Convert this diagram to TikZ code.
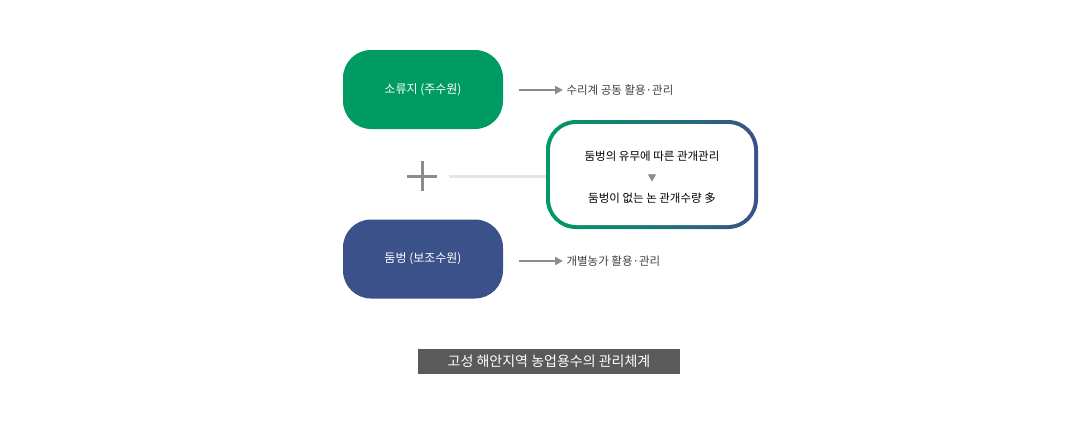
\documentclass[tikz,border=0pt]{standalone}
\usepackage{fontspec}
\setmainfont{Noto Sans CJK KR}
\usetikzlibrary{arrows.meta,positioning}
\definecolor{srcgreen}{HTML}{009B63}
\definecolor{srcblue}{HTML}{3A5189}
\definecolor{arrowgray}{HTML}{8C8C8C}
\definecolor{titlegray}{HTML}{5A5A5A}
\tikzset{%
  every source/.style={
    rounded corners=28pt,
    minimum width=160pt,
    minimum height=79pt,
    text=white,
    font=\fontsize{12}{14}\selectfont
  },
  use label/.style={
    anchor=west,
    text=black!75,
    font=\fontsize{11.5}{14}\selectfont
  },
  use arrow/.style={
    -{Triangle[length=8pt,width=8pt]},
    draw=arrowgray,
    line width=2.2pt
  },
}
\begin{document}
\begin{tikzpicture}[x=1pt,y=-1pt]
\useasboundingbox (0,0) rectangle (1080,426);

\node [every source, fill=srcgreen] (pond) at (423,89.5) {소류지 (주수원)};
\node [every source, fill=srcblue] (dumbeong) at (423,259) {둠벙 (보조수원)};

\coordinate (pond-end) at (519,90);
\coordinate (dumbeong-end) at (519,261);
\node [use label] (pond-use) at (563,90) {수리계 공동 활용·관리};
\node [use label] (dumbeong-use) at (563,261) {개별농가 활용·관리};
\draw [use arrow] (pond-end) -- (pond-use.west);
\draw [use arrow] (dumbeong-end) -- (dumbeong-use.west);

% plus sign and connecting line
\coordinate (plus) at (422,176);
\draw [arrowgray, line width=3pt] ([xshift=-15pt]plus) -- ([xshift=15pt]plus)
  ([yshift=-15pt]plus) -- ([yshift=15pt]plus);
\coordinate (line-start) at (449,176);

% note box with graded border
\shade [left color=srcgreen, right color=srcblue, rounded corners=30pt]
  (546,120) rectangle (758,229);
\fill [white, rounded corners=26pt] (550,124) rectangle (754,225);
\draw [black!10, line width=3pt] (line-start) -- (546,176);
\node [font=\fontsize{11.5}{14}\selectfont] (note-top) at (652,156) {둠벙의 유무에 따른 관개관리};
\node [text=arrowgray, font=\fontsize{9}{10}\selectfont] (note-mid) at (652,178) {▼};
\node [font=\fontsize{11.5}{14}\selectfont] (note-bottom) at (652,198) {둠벙이 없는 논 관개수량 多};

\node [fill=titlegray, text=white, minimum width=262pt, minimum height=25pt,
  inner sep=0pt, font=\fontsize{14}{16}\selectfont] (title) at (549,361.5)
  {고성 해안지역 농업용수의 관리체계};

\end{tikzpicture}
\end{document}
